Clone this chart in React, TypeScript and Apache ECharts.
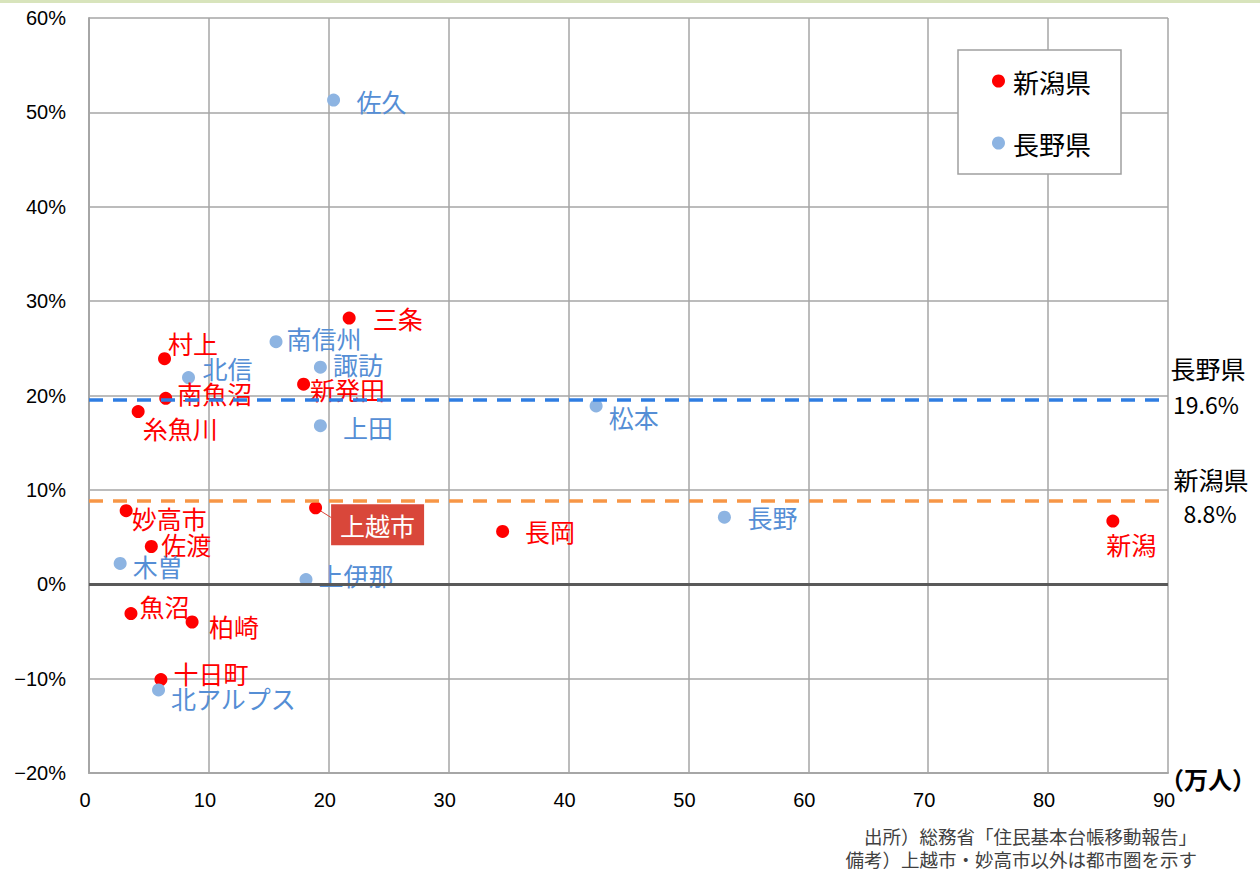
import React, { useEffect, useRef } from 'react';
import * as echarts from 'echarts';

// ---- data ----
const niigataNames = ['三条', '村上', '南魚沼', '糸魚川', '新発田', '妙高市', '佐渡', '上越市', '長岡', '新潟', '魚沼', '柏崎', '十日町'];
const niigataPop = [21.7, 6.3, 6.4, 4.1, 17.9, 3.1, 5.2, 18.9, 34.5, 85.4, 3.5, 8.6, 6.0];
const niigataRate = [28.2, 23.9, 19.7, 18.3, 21.2, 7.8, 4.0, 8.1, 5.6, 6.7, -3.1, -4.0, -10.1];

const naganoNames = ['佐久', '南信州', '北信', '諏訪', '上田', '松本', '長野', '木曽', '上伊那', '北アルプス'];
const naganoPop = [20.4, 15.6, 8.3, 19.3, 19.3, 42.3, 53.0, 2.6, 18.1, 5.8];
const naganoRate = [51.3, 25.7, 21.9, 23.0, 16.8, 18.9, 7.1, 2.2, 0.5, -11.2];

const prefNames = ['新潟県', '長野県'];
const prefAverages = [8.8, 19.6];
const xTicks = { min: 0, max: 90, interval: 10 };
const yTicks = { min: -20, max: 60, interval: 10 };
const xUnit = '（万人）';
const notes = ['出所）総務省「住民基本台帳移動報告」', '備考）上越市・妙高市以外は都市圏を示す'];

// ---- label placement (styling) ----
const labelOffsets: Record<string, [number, number]> = {
  '三条': [17, 0], '村上': [-3, -16], '南魚沼': [5, -5], '糸魚川': [-2, 16], '新発田': [0, 5],
  '妙高市': [-1, 7], '佐渡': [3.5, -3], '上越市': [9, 17], '長岡': [16, 0], '新潟': [-13, 23],
  '魚沼': [2, -7.5], '柏崎': [10.5, 3.5], '十日町': [6, -7],
  '佐久': [16.5, 1], '南信州': [4, -4], '北信': [7.5, -10], '諏訪': [6, -3], '上田': [16, 1],
  '松本': [6, 11], '長野': [16.5, 0], '木曽': [6, 3], '上伊那': [6, -5], '北アルプス': [6, 8],
};

const RED = '#ff0000';
const BLUE_DOT = '#8db4e2';
const BLUE_TEXT = '#558ed5';
const JP = '"Noto Sans CJK JP", sans-serif';
const NUM = '"Liberation Sans", Arial, sans-serif';

function buildItems(names: string[], pops: number[], rates: number[]) {
  return names.map((n, i) => {
    const item: any = { name: n, value: [pops[i], rates[i]], label: { offset: labelOffsets[n] || [4, 0] } };
    if (n === '上越市') {
      item.label = {
        offset: labelOffsets[n],
        color: '#ffffff',
        backgroundColor: '#d9473a',
        padding: [7, 9, 7, 9],
        lineHeight: 27,
      };
    }
    return item;
  });
}

export default function App() {
  const ref = useRef<HTMLDivElement>(null);
  useEffect(() => {
    if (!ref.current) return;
    const chart = echarts.init(ref.current, undefined, { renderer: 'svg' });
    const labelBase = {
      show: true,
      position: 'right',
      distance: 0,
      formatter: '{b}',
      fontSize: 25,
      fontFamily: JP,
    };
    const dash = [14, 10];
    const option: any = {
      animation: false,
      backgroundColor: '#ffffff',
      grid: { left: 89, right: 92, top: 18, bottom: 99, containLabel: false, outerBoundsMode: 'none' },
      legend: {
        data: prefNames,
        orient: 'vertical',
        left: 958,
        top: 50,
        icon: 'circle',
        itemWidth: 13,
        itemHeight: 13,
        itemGap: 36,
        padding: [18, 30, 18, 34],
        backgroundColor: '#ffffff',
        borderColor: '#a0a0a0',
        borderWidth: 1.5,
        borderRadius: 0,
        selectedMode: false,
        textStyle: { fontSize: 26, fontFamily: JP, color: '#000', padding: [0, 0, 0, 3], lineHeight: 26 },
      },
      xAxis: {
        type: 'value',
        min: xTicks.min,
        max: xTicks.max,
        interval: xTicks.interval,
        axisLine: { show: true, onZero: false, lineStyle: { color: '#a6a6a6', width: 2 } },
        axisTick: { show: false },
        axisLabel: { fontSize: 20, fontFamily: NUM, color: '#000', margin: 17, padding: [0, 8, 0, 0] },
        splitLine: { show: true, lineStyle: { color: '#a6a6a6', width: 1.5 } },
      },
      yAxis: {
        type: 'value',
        min: yTicks.min,
        max: yTicks.max,
        interval: yTicks.interval,
        axisLine: { show: true, lineStyle: { color: '#a6a6a6', width: 2 } },
        axisTick: { show: false },
        axisLabel: {
          fontSize: 20,
          fontFamily: NUM,
          color: '#000',
          margin: 23,
          formatter: (v: number) => (v < 0 ? '\u2212' + Math.abs(v) : String(v)) + '%',
        },
        splitLine: { show: true, lineStyle: { color: '#a6a6a6', width: 1.5 } },
      },
      series: [
        {
          name: prefNames[0],
          type: 'scatter',
          symbol: 'circle',
          symbolSize: 13,
          itemStyle: { color: RED, opacity: 1 },
          label: { ...labelBase, color: RED },
          emphasis: { disabled: true },
          data: buildItems(niigataNames, niigataPop, niigataRate),
          z: 3,
          markLine: {
            silent: true,
            symbol: 'none',
            label: { show: false },
            lineStyle: { width: 3 },
            data: [
              { yAxis: 0, lineStyle: { color: '#595959', width: 3, type: 'solid' } },
              { yAxis: prefAverages[0], lineStyle: { color: '#f79646', width: 3.5, type: dash } },
              { yAxis: prefAverages[1], lineStyle: { color: '#2f7de2', width: 3.5, type: dash } },
            ],
          },
        },
        {
          name: prefNames[1],
          type: 'scatter',
          symbol: 'circle',
          symbolSize: 13,
          itemStyle: { color: BLUE_DOT, opacity: 1 },
          label: { ...labelBase, color: BLUE_TEXT },
          emphasis: { disabled: true },
          data: buildItems(naganoNames, naganoPop, naganoRate),
          z: 3,
        },
      ],
    };
    chart.setOption(option);

    const toPx = (x: number, y: number) => chart.convertToPixel({ gridIndex: 0 }, [x, y]) as number[];
    const jIdx = niigataNames.indexOf('上越市');
    const jp = toPx(niigataPop[jIdx], niigataRate[jIdx]);
    const nag = toPx(xTicks.max, prefAverages[1]);
    const nii = toPx(xTicks.max, prefAverages[0]);
    const corner = toPx(xTicks.max, yTicks.min);
    const sideX = nag[0] + 40;
    const cjkSide = { fontSize: 25, fontFamily: JP, fill: '#000', align: 'center', verticalAlign: 'middle' };
    const numSide = { fontSize: 23, fontFamily: JP, fill: '#000', align: 'center', verticalAlign: 'middle' };
    chart.setOption({
      graphic: [
        { type: 'rect', left: 0, top: 0, shape: { x: 0, y: 0, width: 1260, height: 3 }, style: { fill: '#d8e4bc' }, silent: true },
        { type: 'line', shape: { x1: jp[0], y1: jp[1], x2: jp[0] + 16, y2: jp[1] + 10 }, style: { stroke: '#d9473a', lineWidth: 1 }, z: 2 },
        { type: 'text', x: corner[0] - 8, y: corner[1] + 5, style: { fontSize: 24, fontWeight: 'bold', fontFamily: JP, fill: '#000', align: 'left', verticalAlign: 'middle', text: xUnit } },
        { type: 'text', x: sideX, y: nag[1] - 31, style: { ...cjkSide, text: prefNames[1] } },
        { type: 'text', x: sideX - 2, y: nag[1] + 5, style: { ...numSide, text: prefAverages[1].toFixed(1) + '%' } },
        { type: 'text', x: sideX + 3, y: nii[1] - 22, style: { ...cjkSide, text: prefNames[0] } },
        { type: 'text', x: sideX + 2, y: nii[1] + 12, style: { ...numSide, text: prefAverages[0].toFixed(1) + '%' } },
        { type: 'text', x: 1197, y: 836, style: { fontSize: 18.5, fontFamily: JP, fill: '#404040', align: 'right', verticalAlign: 'middle', text: notes[0] } },
        { type: 'text', x: 1197, y: 859, style: { fontSize: 18.5, fontFamily: JP, fill: '#404040', align: 'right', verticalAlign: 'middle', text: notes[1] } },
      ],
    });
    return () => chart.dispose();
  }, []);
  return <div ref={ref} style={{ position: 'fixed', left: 0, top: 0, width: 1260, height: 872 }} />;
}
